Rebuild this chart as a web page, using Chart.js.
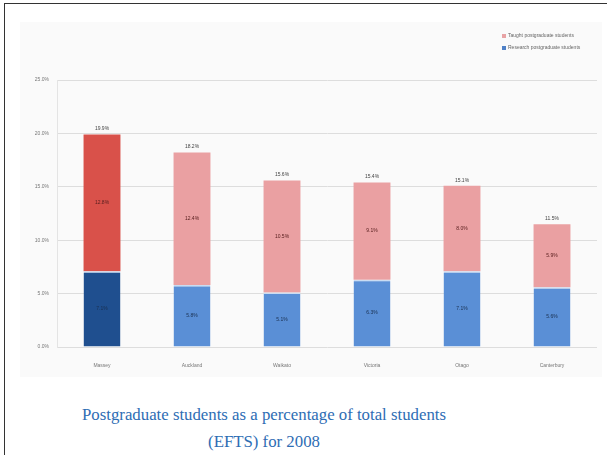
<!DOCTYPE html>
<html><head><meta charset="utf-8">
<script src="https://cdn.jsdelivr.net/npm/chart.js@4.4.0/dist/chart.umd.min.js"></script>
<style>
html,body{margin:0;padding:0;background:#fff;width:607px;height:455px;overflow:hidden;}
#frame{position:absolute;left:4px;top:3px;width:603px;height:452px;border-left:1px solid #333;border-top:1px solid #333;}
#panel{position:absolute;left:20px;top:22px;width:582px;height:355px;background:#fafafa;}
#c{position:absolute;left:0;top:0;}
#legend{position:absolute;left:482px;top:7px;font:5px Arial,sans-serif;color:#666;line-height:12px;}
#legend span.m{display:inline-block;width:4px;height:4px;margin-right:2px;vertical-align:middle;}
#caption{position:absolute;left:0;width:528px;top:401px;text-align:center;font:16.8px "Liberation Serif","Times New Roman",serif;color:#2e6db4;line-height:27px;}
</style></head>
<body>
<div id="frame"></div>
<div id="panel"><canvas id="c" width="582" height="355"></canvas>
<div id="legend"><div><span class="m" style="background:#e8a3a5"></span>Taught postgraduate students</div><div><span class="m" style="background:#4f81c7"></span>Research postgraduate students</div></div>
</div>
<div id="caption">Postgraduate students as a percentage of total students<br>(EFTS) for 2008</div>
<script>
const categories = ["Massey","Auckland","Waikato","Victoria","Otago","Canterbury"];
const research = [7.1, 5.8, 5.1, 6.3, 7.1, 5.6];
const taught = [12.8, 12.4, 10.5, 9.1, 8.0, 5.9];
const totals = [19.9, 18.2, 15.6, 15.4, 15.1, 11.5];
const yTicks = [0, 5, 10, 15, 20, 25];

const researchColors = ["#1f4f8f","#5a8fd6","#5a8fd6","#5a8fd6","#5a8fd6","#5a8fd6"];
const taughtColors = ["#d9514a","#eaa0a2","#eaa0a2","#eaa0a2","#eaa0a2","#eaa0a2"];

const labelPlugin = {
  id:'labels',
  afterDatasetsDraw(chart){
    const ctx = chart.ctx;
    ctx.save();
    ctx.font = '5px Arial';
    ctx.textAlign='center';ctx.textBaseline='middle';
    chart.data.datasets.forEach((ds,di)=>{
      const meta = chart.getDatasetMeta(di);
      meta.data.forEach((el,i)=>{
        const mid = (el.y+el.base)/2;
        ctx.fillStyle = di===0 ? '#1a3050' : '#5a2020';
        ctx.fillText(ds.data[i].toFixed(1)+'%', el.x, mid);
      });
    });
    const top = chart.getDatasetMeta(1);
    ctx.fillStyle='#444';
    ctx.textBaseline='bottom';
    top.data.forEach((el,i)=>{
      ctx.fillText(totals[i].toFixed(1)+'%', el.x, el.y-3);
    });
    ctx.restore();
  }
};

new Chart(document.getElementById('c'),{
  type:'bar',
  data:{labels:categories,datasets:[
    {label:'Research postgraduate students',data:research,backgroundColor:researchColors,borderColor:'#c9dcf3',borderWidth:{top:1.5,left:0,right:0,bottom:0},borderSkipped:false,barPercentage:0.41,categoryPercentage:1},
    {label:'Taught postgraduate students',data:taught,backgroundColor:taughtColors,borderWidth:0,barPercentage:0.41,categoryPercentage:1}
  ]},
  options:{
    responsive:false,animation:false,
    layout:{padding:{left:2,right:5,top:58,bottom:0}},
    plugins:{legend:{display:false},tooltip:{enabled:false}},
    scales:{
      x:{stacked:true,grid:{display:false},border:{display:false},
        ticks:{color:'#777',font:{size:5,family:'Arial'},padding:8},
        afterFit(s){s.height=30;}},
      y:{stacked:true,min:0,max:25,
        afterBuildTicks(s){s.ticks=yTicks.map(v=>({value:v}));},
        grid:{color:'#dddddd',lineWidth:1,drawTicks:false},border:{display:true,color:'#e4e4e4'},
        ticks:{color:'#777',font:{size:5,family:'Arial'},padding:8,callback:v=>v.toFixed(1)+'%'},
        afterFit(s){s.width=35;}}
    }
  },
  plugins:[labelPlugin]
});
</script>
</body></html>
